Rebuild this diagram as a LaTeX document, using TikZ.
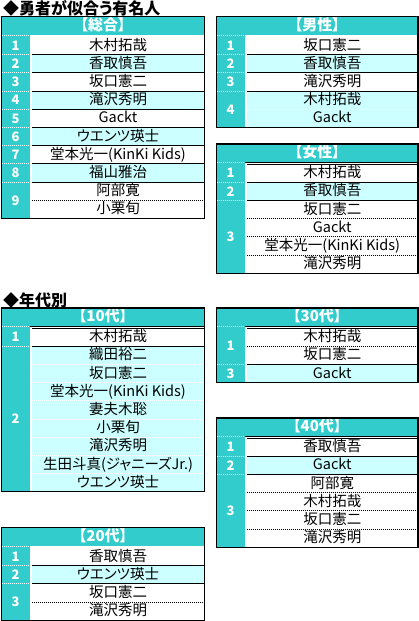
\documentclass[tikz,border=0pt]{standalone}
\usepackage{fontspec}
\setmainfont{Noto Sans CJK JP}[RawFeature=+palt]
\usetikzlibrary{positioning}
\definecolor{rankteal}{HTML}{33CCCC}
\definecolor{rowcyan}{HTML}{CCFFFF}
\newcommand{\namefont}{\fontsize{14.5pt}{14.5pt}\selectfont}
\newcommand{\hdrfont}{\fontsize{15pt}{15pt}\selectfont\bfseries}
\newcommand{\rankfont}{\fontsize{13pt}{13pt}\selectfont\bfseries}
\newcommand{\ttlfont}{\fontsize{16pt}{16pt}\selectfont\bfseries}
\tikzset{
  hdr/.style={fill=rankteal, text=white, font=\hdrfont, minimum height=20pt, inner sep=0pt, outer sep=0pt, anchor=north west, text height=11pt, text depth=3.5pt},
  rankcell/.style={fill=rankteal, text=white, font=\rankfont, minimum width=28pt, inner sep=0pt, outer sep=0pt, anchor=north west},
  namew/.style={fill=white, font=\namefont, minimum height=18.2pt, inner sep=0pt, outer sep=0pt, text height=11.5pt, text depth=2.5pt, anchor=north west},
  namec/.style={namew, fill=rowcyan},
  lcol/.style={minimum width=173pt},
  rcol/.style={minimum width=171.5pt},
  sepline/.style={black, line width=1pt},
  dotblack/.style={black, line width=1pt, dash pattern=on 1pt off 1pt},
  dotwhite/.style={white, line width=1pt, dash pattern=on 1pt off 1pt},
  tblborder/.style={black, line width=1.1pt},
  dblline/.style={draw=black, double=white, line width=0.8pt, double distance=1.2pt},
  ttl/.style={font=\ttlfont, inner sep=0pt, anchor=west}
}
\begin{document}
\begin{tikzpicture}[x=1pt, y=-1pt]
\path[use as bounding box, fill=white] (0,0) rectangle (419,621);
\node[ttl] (ttlA) at (3,8.5) {◆勇者が似合う有名人};
\node[ttl] (ttlB) at (3,300.5) {◆年代別};

% 総合
\node[hdr, minimum width=203pt] (sogoH) at (1.5,16.5) {【総合】};
\node[namew, lcol] (sogoN1) at (31.5,36.5) {木村拓哉};
\node[namec, lcol, below=0pt of sogoN1] (sogoN2) {香取慎吾};
\node[namew, lcol, below=0pt of sogoN2] (sogoN3) {坂口憲二};
\node[namec, lcol, below=0pt of sogoN3] (sogoN4) {滝沢秀明};
\node[namew, lcol, below=0pt of sogoN4] (sogoN5) {Gackt};
\node[namec, lcol, below=0pt of sogoN5] (sogoN6) {ウエンツ瑛士};
\node[namew, lcol, below=0pt of sogoN6] (sogoN7) {堂本光一(KinKi Kids)};
\node[namec, lcol, below=0pt of sogoN7] (sogoN8) {福山雅治};
\node[namew, lcol, below=0pt of sogoN8] (sogoN9) {阿部寛};
\node[namew, lcol, below=0pt of sogoN9] (sogoN10) {小栗旬};
\node[rankcell, minimum height=18.2pt] (sogoR1) at (1.5,36.5) {1};
\node[rankcell, minimum height=18.2pt, below=0pt of sogoR1] (sogoR2) {2};
\node[rankcell, minimum height=18.2pt, below=0pt of sogoR2] (sogoR3) {3};
\node[rankcell, minimum height=18.2pt, below=0pt of sogoR3] (sogoR4) {4};
\node[rankcell, minimum height=18.2pt, below=0pt of sogoR4] (sogoR5) {5};
\node[rankcell, minimum height=18.2pt, below=0pt of sogoR5] (sogoR6) {6};
\node[rankcell, minimum height=18.2pt, below=0pt of sogoR6] (sogoR7) {7};
\node[rankcell, minimum height=18.2pt, below=0pt of sogoR7] (sogoR8) {8};
\node[rankcell, minimum height=36.4pt, below=0pt of sogoR8] (sogoR9) {9};
\draw[dotwhite] ([yshift=1.2pt]sogoR1.north west) -- ([yshift=1.2pt]sogoR1.north east)
  (sogoR1.south west) -- (sogoR1.south east) (sogoR2.south west) -- (sogoR2.south east)
  (sogoR3.south west) -- (sogoR3.south east) (sogoR4.south west) -- (sogoR4.south east)
  (sogoR5.south west) -- (sogoR5.south east) (sogoR6.south west) -- (sogoR6.south east)
  (sogoR7.south west) -- (sogoR7.south east) (sogoR8.south west) -- (sogoR8.south east);
\draw[sepline] (sogoN1.south west) -- (sogoN1.south east) (sogoN2.south west) -- (sogoN2.south east)
  (sogoN3.south west) -- (sogoN3.south east) (sogoN4.south west) -- (sogoN4.south east)
  (sogoN5.south west) -- (sogoN5.south east) (sogoN6.south west) -- (sogoN6.south east)
  (sogoN7.south west) -- (sogoN7.south east) (sogoN8.south west) -- (sogoN8.south east);
\draw[dotblack] (sogoN9.south west) -- (sogoN9.south east);
\draw[dblline] ([xshift=-0.6pt]sogoN10.south west) -- ([shift={(-0.6pt,0.6pt)}]sogoN1.north west) -- ([yshift=0.6pt]sogoN1.north east);
\draw[tblborder] (sogoH.north west) rectangle (sogoN10.south east);

% 男性
\node[hdr, minimum width=201.5pt] (danH) at (216.5,16.5) {【男性】};
\node[namew, rcol] (danN1) at (246.5,36.5) {坂口憲二};
\node[namec, rcol, below=0pt of danN1] (danN2) {香取慎吾};
\node[namew, rcol, below=0pt of danN2] (danN3) {滝沢秀明};
\node[namec, rcol, below=0pt of danN3] (danN4) {木村拓哉};
\node[namec, rcol, below=0pt of danN4] (danN5) {Gackt};
\node[rankcell, minimum height=18.2pt] (danR1) at (216.5,36.5) {1};
\node[rankcell, minimum height=18.2pt, below=0pt of danR1] (danR2) {2};
\node[rankcell, minimum height=18.2pt, below=0pt of danR2] (danR3) {3};
\node[rankcell, minimum height=36.4pt, below=0pt of danR3] (danR4) {4};
\draw[dotwhite] ([yshift=1.2pt]danR1.north west) -- ([yshift=1.2pt]danR1.north east)
  (danR1.south west) -- (danR1.south east) (danR2.south west) -- (danR2.south east)
  (danR3.south west) -- (danR3.south east);
\draw[sepline] (danN1.south west) -- (danN1.south east) (danN2.south west) -- (danN2.south east)
  (danN3.south west) -- (danN3.south east);
\draw[dotwhite] (danN4.south west) -- (danN4.south east);
\draw[dblline] ([xshift=-0.6pt]danN5.south west) -- ([shift={(-0.6pt,0.6pt)}]danN1.north west) -- ([yshift=0.6pt]danN1.north east);
\draw[tblborder] (danH.north west) rectangle (danN5.south east);

% 女性
\node[hdr, minimum width=201.5pt] (jyoH) at (216.5,144) {【女性】};
\node[namew, rcol] (jyoN1) at (246.5,164) {木村拓哉};
\node[namec, rcol, below=0pt of jyoN1] (jyoN2) {香取慎吾};
\node[namew, rcol, below=0pt of jyoN2] (jyoN3) {坂口憲二};
\node[namew, rcol, below=0pt of jyoN3] (jyoN4) {Gackt};
\node[namew, rcol, below=0pt of jyoN4] (jyoN5) {堂本光一(KinKi Kids)};
\node[namew, rcol, below=0pt of jyoN5] (jyoN6) {滝沢秀明};
\node[rankcell, minimum height=18.2pt] (jyoR1) at (216.5,164) {1};
\node[rankcell, minimum height=18.2pt, below=0pt of jyoR1] (jyoR2) {2};
\node[rankcell, minimum height=72.8pt, below=0pt of jyoR2] (jyoR3) {3};
\draw[dotwhite] ([yshift=1.2pt]jyoR1.north west) -- ([yshift=1.2pt]jyoR1.north east)
  (jyoR1.south west) -- (jyoR1.south east) (jyoR2.south west) -- (jyoR2.south east);
\draw[sepline] (jyoN1.south west) -- (jyoN1.south east) (jyoN2.south west) -- (jyoN2.south east);
\draw[dotblack] (jyoN3.south west) -- (jyoN3.south east) (jyoN4.south west) -- (jyoN4.south east)
  (jyoN5.south west) -- (jyoN5.south east);
\draw[dblline] ([xshift=-0.6pt]jyoN6.south west) -- ([shift={(-0.6pt,0.6pt)}]jyoN1.north west) -- ([yshift=0.6pt]jyoN1.north east);
\draw[tblborder] (jyoH.north west) rectangle (jyoN6.south east);

% 10代
\node[hdr, minimum width=203pt] (d10H) at (1.5,308) {【10代】};
\node[namew, lcol] (d10N1) at (31.5,328) {木村拓哉};
\node[namec, lcol, below=0pt of d10N1] (d10N2) {織田裕二};
\node[namec, lcol, below=0pt of d10N2] (d10N3) {坂口憲二};
\node[namec, lcol, below=0pt of d10N3] (d10N4) {堂本光一(KinKi Kids)};
\node[namec, lcol, below=0pt of d10N4] (d10N5) {妻夫木聡};
\node[namec, lcol, below=0pt of d10N5] (d10N6) {小栗旬};
\node[namec, lcol, below=0pt of d10N6] (d10N7) {滝沢秀明};
\node[namec, lcol, below=0pt of d10N7] (d10N8) {生田斗真(ジャニーズJr.)};
\node[namec, lcol, below=0pt of d10N8] (d10N9) {ウエンツ瑛士};
\node[rankcell, minimum height=18.2pt] (d10R1) at (1.5,328) {1};
\node[rankcell, minimum height=145.6pt, below=0pt of d10R1] (d10R2) {2};
\draw[dotwhite] ([yshift=1.2pt]d10R1.north west) -- ([yshift=1.2pt]d10R1.north east)
  (d10R1.south west) -- (d10R1.south east);
\draw[sepline] (d10N1.south west) -- (d10N1.south east);
\draw[dotwhite] (d10N2.south west) -- (d10N2.south east) (d10N3.south west) -- (d10N3.south east)
  (d10N4.south west) -- (d10N4.south east) (d10N5.south west) -- (d10N5.south east)
  (d10N6.south west) -- (d10N6.south east) (d10N7.south west) -- (d10N7.south east)
  (d10N8.south west) -- (d10N8.south east);
\draw[dblline] ([xshift=-0.6pt]d10N9.south west) -- ([shift={(-0.6pt,0.6pt)}]d10N1.north west) -- ([yshift=0.6pt]d10N1.north east);
\draw[tblborder] (d10H.north west) rectangle (d10N9.south east);

% 30代
\node[hdr, minimum width=201.5pt] (d30H) at (216.5,308) {【30代】};
\node[namew, rcol] (d30N1) at (246.5,328) {木村拓哉};
\node[namew, rcol, below=0pt of d30N1] (d30N2) {坂口憲二};
\node[namec, rcol, below=0pt of d30N2] (d30N3) {Gackt};
\node[rankcell, minimum height=36.4pt] (d30R1) at (216.5,328) {1};
\node[rankcell, minimum height=18.2pt, below=0pt of d30R1] (d30R3) {3};
\draw[dotwhite] ([yshift=1.2pt]d30R1.north west) -- ([yshift=1.2pt]d30R1.north east)
  (d30R1.south west) -- (d30R1.south east);
\draw[dotblack] (d30N1.south west) -- (d30N1.south east);
\draw[sepline] (d30N2.south west) -- (d30N2.south east);
\draw[dblline] ([xshift=-0.6pt]d30N3.south west) -- ([shift={(-0.6pt,0.6pt)}]d30N1.north west) -- ([yshift=0.6pt]d30N1.north east);
\draw[tblborder] (d30H.north west) rectangle (d30N3.south east);

% 40代
\node[hdr, minimum width=201.5pt] (d40H) at (216.5,418) {【40代】};
\node[namew, rcol] (d40N1) at (246.5,438) {香取慎吾};
\node[namec, rcol, below=0pt of d40N1] (d40N2) {Gackt};
\node[namew, rcol, below=0pt of d40N2] (d40N3) {阿部寛};
\node[namew, rcol, below=0pt of d40N3] (d40N4) {木村拓哉};
\node[namew, rcol, below=0pt of d40N4] (d40N5) {坂口憲二};
\node[namew, rcol, below=0pt of d40N5] (d40N6) {滝沢秀明};
\node[rankcell, minimum height=18.2pt] (d40R1) at (216.5,438) {1};
\node[rankcell, minimum height=18.2pt, below=0pt of d40R1] (d40R2) {2};
\node[rankcell, minimum height=72.8pt, below=0pt of d40R2] (d40R3) {3};
\draw[dotwhite] ([yshift=1.2pt]d40R1.north west) -- ([yshift=1.2pt]d40R1.north east)
  (d40R1.south west) -- (d40R1.south east) (d40R2.south west) -- (d40R2.south east);
\draw[sepline] (d40N1.south west) -- (d40N1.south east) (d40N2.south west) -- (d40N2.south east);
\draw[dotblack] (d40N3.south west) -- (d40N3.south east) (d40N4.south west) -- (d40N4.south east)
  (d40N5.south west) -- (d40N5.south east);
\draw[dblline] ([xshift=-0.6pt]d40N6.south west) -- ([shift={(-0.6pt,0.6pt)}]d40N1.north west) -- ([yshift=0.6pt]d40N1.north east);
\draw[tblborder] (d40H.north west) rectangle (d40N6.south east);

% 20代
\node[hdr, minimum width=203pt] (d20H) at (1.5,527.5) {【20代】};
\node[namew, lcol] (d20N1) at (31.5,547.5) {香取慎吾};
\node[namec, lcol, below=0pt of d20N1] (d20N2) {ウエンツ瑛士};
\node[namew, lcol, below=0pt of d20N2] (d20N3) {坂口憲二};
\node[namew, lcol, below=0pt of d20N3] (d20N4) {滝沢秀明};
\node[rankcell, minimum height=18.2pt] (d20R1) at (1.5,547.5) {1};
\node[rankcell, minimum height=18.2pt, below=0pt of d20R1] (d20R2) {2};
\node[rankcell, minimum height=36.4pt, below=0pt of d20R2] (d20R3) {3};
\draw[dotwhite] ([yshift=1.2pt]d20R1.north west) -- ([yshift=1.2pt]d20R1.north east)
  (d20R1.south west) -- (d20R1.south east) (d20R2.south west) -- (d20R2.south east);
\draw[sepline] (d20N1.south west) -- (d20N1.south east) (d20N2.south west) -- (d20N2.south east);
\draw[dotblack] (d20N3.south west) -- (d20N3.south east);
\draw[dblline] ([xshift=-0.6pt]d20N4.south west) -- ([shift={(-0.6pt,0.6pt)}]d20N1.north west) -- ([yshift=0.6pt]d20N1.north east);
\draw[tblborder] (d20H.north west) rectangle (d20N4.south east);
\end{tikzpicture}
\end{document}
